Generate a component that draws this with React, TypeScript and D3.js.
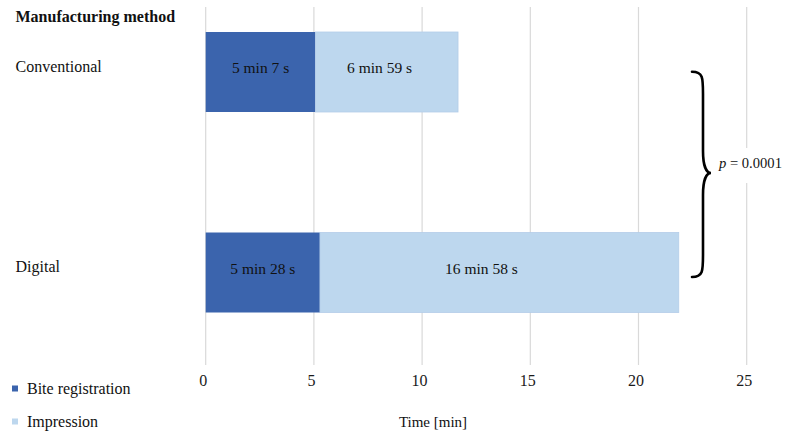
import React, { useEffect, useRef } from "react";
import * as d3 from "d3";

// values plotted as in the source chart (min.sec read as decimals)
const categories = ["Conventional", "Digital"];
const biteValues = [5.07, 5.28];
const impressionValues = [6.59, 16.58];
const biteLabels = ["5 min 7 s", "5 min 28 s"];
const impressionLabels = ["6 min 59 s", "16 min 58 s"];
const xTicks = [0, 5, 10, 15, 20, 25];
const seriesNames = ["Bite registration", "Impression"];
const seriesColors = ["#3b64ad", "#bdd7ee"];

const WIDTH = 792;
const HEIGHT = 441;
const FONT = "'Liberation Serif', 'DejaVu Serif', serif";

const App: React.FC = () => {
  const svgRef = useRef<SVGSVGElement | null>(null);

  useEffect(() => {
    const svg = d3.select(svgRef.current);
    svg.selectAll("*").remove();

    const x = d3.scaleLinear().domain([0, 25]).range([205.7, 746.7]);
    const y = d3.scalePoint<string>().domain(categories).range([72, 272.5]);
    const barH = 80;

    // gridlines
    svg
      .append("g")
      .selectAll("line")
      .data(xTicks)
      .enter()
      .append("line")
      .attr("x1", (d) => x(d))
      .attr("x2", (d) => x(d))
      .attr("y1", 7)
      .attr("y2", 365)
      .attr("stroke", "#d9d9d9")
      .attr("stroke-width", 1.2);

    // tick labels
    svg
      .append("g")
      .selectAll("text")
      .data(xTicks)
      .enter()
      .append("text")
      .attr("x", (d) => x(d) - 2.5)
      .attr("y", 385.5)
      .attr("text-anchor", "middle")
      .attr("font-family", FONT)
      .attr("font-size", 16)
      .attr("fill", "#1a1a1a")
      .text((d) => d);

    const rows = categories.map((c, i) => ({
      cat: c,
      bite: biteValues[i],
      imp: impressionValues[i],
      biteLabel: biteLabels[i],
      impLabel: impressionLabels[i],
    }));

    const bars = svg.append("g");
    rows.forEach((r) => {
      const cy = y(r.cat)!;
      bars
        .append("rect")
        .attr("x", x(0))
        .attr("y", cy - barH / 2)
        .attr("width", x(r.bite) - x(0))
        .attr("height", barH)
        .attr("fill", seriesColors[0]);
      bars
        .append("rect")
        .attr("x", x(r.bite))
        .attr("y", cy - barH / 2)
        .attr("width", x(r.bite + r.imp) - x(r.bite))
        .attr("height", barH)
        .attr("fill", seriesColors[1])
        .attr("stroke", "#b3cde8")
        .attr("stroke-width", 0.8);

      bars
        .append("text")
        .attr("x", (x(0) + x(r.bite)) / 2)
        .attr("y", cy + 1)
        .attr("text-anchor", "middle")
        .attr("font-family", FONT)
        .attr("font-size", 15.5)
        .attr("fill", "#111")
        .text(r.biteLabel);
      bars
        .append("text")
        .attr("x", x(r.bite) + (x(r.bite + r.imp) - x(r.bite)) * 0.45)
        .attr("y", cy + 1)
        .attr("text-anchor", "middle")
        .attr("font-family", FONT)
        .attr("font-size", 15.5)
        .attr("fill", "#111")
        .text(r.impLabel);

      // category label
      svg
        .append("text")
        .attr("x", 15.5)
        .attr("y", cy - 0.5)
        .attr("font-family", FONT)
        .attr("font-size", 16)
        .attr("fill", "#111")
        .text(r.cat);
    });

    // header
    svg
      .append("text")
      .attr("x", 15.5)
      .attr("y", 22)
      .attr("font-family", FONT)
      .attr("font-size", 16)
      .attr("font-weight", "bold")
      .attr("fill", "#111")
      .text("Manufacturing method");

    // axis title
    svg
      .append("text")
      .attr("x", 433)
      .attr("y", 427)
      .attr("text-anchor", "middle")
      .attr("font-family", FONT)
      .attr("font-size", 15)
      .attr("fill", "#111")
      .text("Time [min]");

    // legend
    const legend = svg.append("g");
    seriesNames.forEach((name, i) => {
      const ly = 388.5 + i * 33;
      legend
        .append("rect")
        .attr("x", 12)
        .attr("y", ly - 3)
        .attr("width", 6)
        .attr("height", 6)
        .attr("fill", seriesColors[i]);
      legend
        .append("text")
        .attr("x", 27)
        .attr("y", ly + 5.5)
        .attr("font-family", FONT)
        .attr("font-size", 16)
        .attr("fill", "#111")
        .text(name);
    });

    // brace + p value
    const bx = 692;
    const y0 = y(categories[0])! - 0.3;
    const y1 = y(categories[1])! + 4.5;
    const ym = 173;
    const sx = 703;
    const tx = 711;
    const brace = `M${bx},${y0} C${sx},${y0} ${sx},${y0 + 6} ${sx},${y0 + 22}
      L${sx},${ym - 22} C${sx},${ym - 6} ${tx - 4},${ym} ${tx},${ym}
      C${tx - 4},${ym} ${sx},${ym + 6} ${sx},${ym + 22}
      L${sx},${y1 - 22} C${sx},${y1 - 6} ${sx},${y1} ${bx},${y1}`;
    svg
      .append("path")
      .attr("d", brace)
      .attr("fill", "none")
      .attr("stroke", "#000")
      .attr("stroke-width", 2.6)
      .attr("stroke-linecap", "round");

    svg
      .append("rect")
      .attr("x", 716)
      .attr("y", 148)
      .attr("width", 70)
      .attr("height", 35)
      .attr("fill", "#fff");

    const pText = svg
      .append("text")
      .attr("x", 719)
      .attr("y", 168)
      .attr("font-family", FONT)
      .attr("font-size", 14.6)
      .attr("fill", "#111");
    pText.append("tspan").attr("font-style", "italic").text("p");
    pText.append("tspan").text(" = 0.0001");
  }, []);

  return (
    <svg
      ref={svgRef}
      width={WIDTH}
      height={HEIGHT}
      style={{ position: "absolute", left: 0, top: 0, background: "#fff" }}
    />
  );
};

export default App;
